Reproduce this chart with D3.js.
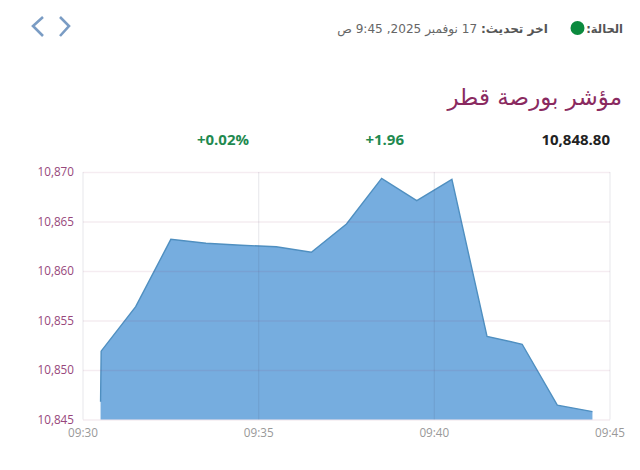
<!DOCTYPE html>
<html>
<head>
<meta charset="utf-8">
<script src="https://cdn.jsdelivr.net/npm/d3@7"></script>
<style>
  html, body { margin: 0; padding: 0; background: #fff; }
  text { font-family: "Open Sans", "DejaVu Sans", sans-serif; }
  .ar { font-family: "DejaVu Sans", sans-serif; }
  .domain { display: none; }
</style>
</head>
<body>
<svg id="chart" width="640" height="470"></svg>
<script>
const times = ["09:30:30", "09:30:31", "09:31:30", "09:32:30", "09:33:30", "09:34:30", "09:35:30", "09:36:30",
  "09:37:30", "09:38:30", "09:39:30", "09:40:30", "09:41:30", "09:42:30", "09:43:30", "09:44:30"];
const values = [10846.8, 10851.9, 10856.4, 10863.2, 10862.8, 10862.6, 10862.45, 10861.9,
  10864.75, 10869.35, 10867.1, 10869.25, 10853.4, 10852.6, 10846.45, 10845.8];
const yTicks = [10845, 10850, 10855, 10860, 10865, 10870];
const xTicks = ["09:30", "09:35", "09:40", "09:45"];

const lastValue = "10,848.80";
const change = "+1.96";
const changePct = "+0.02%";

const parseSec = d3.timeParse("%H:%M:%S");
const parseMin = d3.timeParse("%H:%M");
const svg = d3.select("#chart");

const x = d3.scaleTime().domain([parseMin("09:30"), parseMin("09:45")]).range([83, 610]);
const y = d3.scaleLinear().domain([10845, 10870]).range([419.5, 172]);

const pts = times.map((t, i) => ({ t: parseSec(t), v: values[i] }));

const area = d3.area().x(d => x(d.t)).y0(y(10845)).y1(d => y(d.v));
const line = d3.line().x(d => x(d.t)).y(d => y(d.v));

svg.append("path").datum(pts).attr("d", area).attr("fill", "#4f96d6").attr("fill-opacity", 0.78);
svg.append("path").datum(pts).attr("d", line).attr("fill", "none").attr("stroke", "#4f8fc0").attr("stroke-width", 1.4);

// grid goes over the area so it still shows through the fill
svg.append("g")
  .attr("transform", "translate(-0.5,419.5)")
  .call(d3.axisBottom(x).tickValues(xTicks.map(parseMin)).tickFormat(d3.timeFormat("%H:%M")).tickSize(-247.5).tickPadding(9))
  .call(g => g.selectAll(".tick line").attr("stroke", "rgba(70,70,100,0.10)").attr("stroke-width", 1.3))
  .call(g => g.selectAll(".tick text").attr("fill", "#999").attr("font-size", 11.7));

svg.append("g")
  .attr("transform", "translate(83,0)")
  .call(d3.axisLeft(y).tickValues(yTicks).tickFormat(d3.format(",")).tickSize(-527).tickPadding(9))
  .call(g => g.selectAll(".tick line").attr("stroke", "rgba(140,40,100,0.09)").attr("stroke-width", 1.3))
  .call(g => g.selectAll(".tick text").attr("fill", "#97477c").attr("font-size", 11.7));

// header
svg.append("path").attr("d", "M43,17 L33,26 L43,36").attr("fill", "none").attr("stroke", "#7a9cc4").attr("stroke-width", 2.6);
svg.append("path").attr("d", "M60,17 L69,26 L60,36").attr("fill", "none").attr("stroke", "#7a9cc4").attr("stroke-width", 2.6);

svg.append("circle").attr("cx", 577.5).attr("cy", 28).attr("r", 7).attr("fill", "#0b8a3e");

svg.append("text").attr("class", "ar").attr("x", 623).attr("y", 33).attr("text-anchor", "start").attr("direction", "rtl")
  .attr("font-size", 11.5).attr("font-weight", "bold").attr("fill", "#555").text("الحالة:");
svg.append("text").attr("class", "ar").attr("x", 548).attr("y", 33).attr("text-anchor", "start").attr("direction", "rtl")
  .attr("font-size", 12.1).attr("fill", "#666")
  .html('<tspan font-weight="bold" fill="#555">اخر تحديث:</tspan> 17 نوفمبر 2025, 9:45 ص');

svg.append("text").attr("class", "ar").attr("x", 622).attr("y", 105).attr("text-anchor", "start").attr("direction", "rtl")
  .attr("font-size", 23).attr("fill", "#8a2a60").text("مؤشر بورصة قطر");

svg.append("text").attr("x", 610).attr("y", 145).attr("text-anchor", "end")
  .attr("font-size", 15).attr("font-weight", "bold").attr("fill", "#222").text(lastValue);
svg.append("text").attr("x", 404).attr("y", 145).attr("text-anchor", "end")
  .attr("font-size", 15).attr("font-weight", "bold").attr("fill", "#1f8a50").text(change);
svg.append("text").attr("x", 249).attr("y", 145).attr("text-anchor", "end")
  .attr("font-size", 15).attr("font-weight", "bold").attr("fill", "#1f8a50").text(changePct);
</script>
</body>
</html>
